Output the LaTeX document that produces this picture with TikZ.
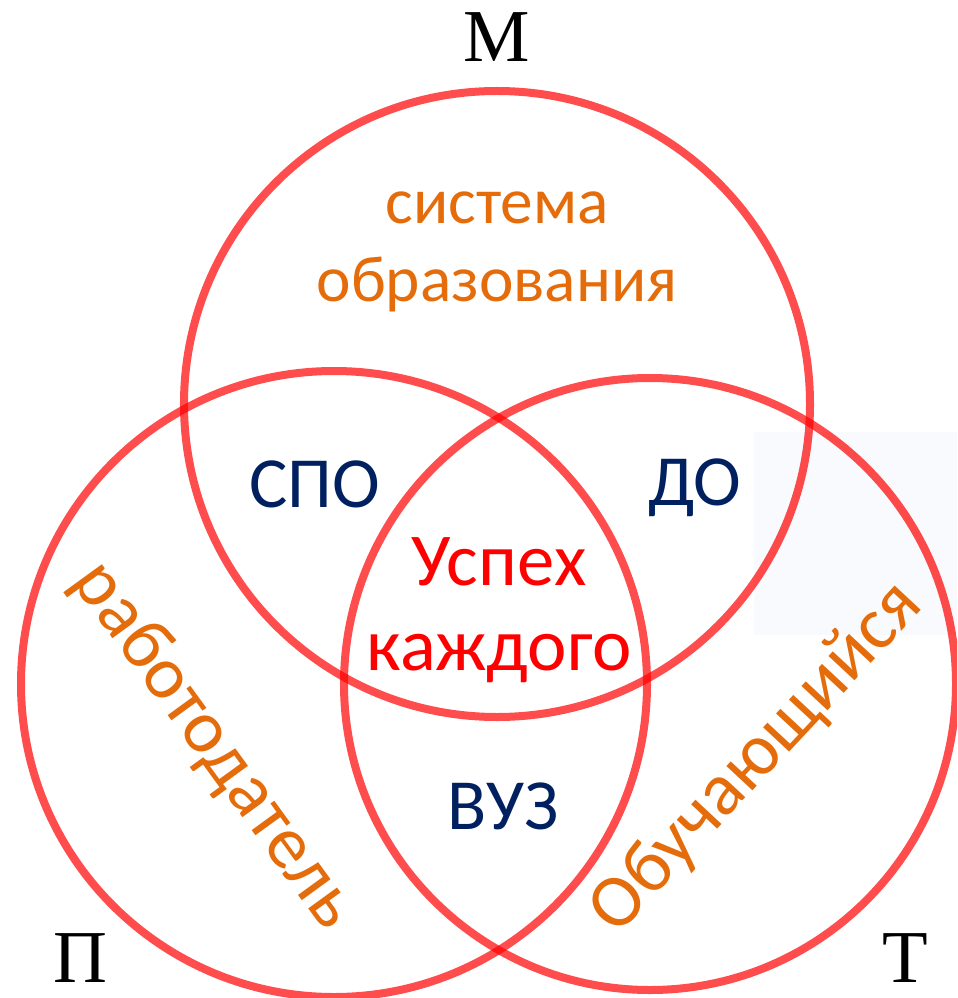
\documentclass[tikz,border=0pt]{standalone}
\usepackage{fontspec}
\setmainfont{Carlito}
\newfontfamily\serifcyr{Liberation Serif}
\usepackage{tikz}

\definecolor{ringred}{RGB}{255,0,0}
\definecolor{areaorange}{RGB}{228,108,10}
\definecolor{areanavy}{RGB}{0,32,96}
\definecolor{paleblue}{RGB}{248,250,253}

\begin{document}
\begin{tikzpicture}[x=0.75pt,y=0.75pt,yscale=-1,xscale=1,
  ring/.style={draw=ringred,draw opacity=0.7,line width=6pt},
  bigtext/.style={inner sep=0.75pt,align=center,font=\fontsize{49}{58}\selectfont},
  sidetext/.style={bigtext,text=areaorange},
  slanttext/.style={sidetext,font=\fontsize{56}{60}\selectfont},
  jointtext/.style={bigtext,text=areanavy,font=\fontsize{54}{60}\selectfont},
  cornertext/.style={inner sep=0.75pt,font=\serifcyr\fontsize{56}{60}\selectfont}]
\useasboundingbox (0,0) rectangle (957,998);
\clip (0,0) rectangle (957,998);

%Shape: Rectangle
\fill [paleblue] (754,432) rectangle (957,635);

%Shape: Circle (top)
\draw [ring] (497,404) circle [radius=313];
%Shape: Circle (left)
\draw [ring] (334,684) circle [radius=313];
%Shape: Circle (right)
\draw [ring] (650,684) circle [radius=306];

% Text Node
\node [sidetext] (sys) at (497,252) {система\\образования};
% Text Node
\node [slanttext,rotate=-54] (emp) at (214,746) {работодатель};
% Text Node
\node [slanttext,rotate=47] (stud) at (757,758) {Обучающийся};

% Text Node
\node [jointtext] (spo) at (315,484) {СПО};
% Text Node
\node [jointtext] (do) at (695,488) {ДО};
% Text Node
\node [jointtext] (vuz) at (503,806) {ВУЗ};
% Text Node
\node [bigtext,text=ringred,font=\fontsize{56}{64}\selectfont] (succ) at (499,610) {Успех\\каждого};

% Text Node
\node [cornertext] (m) at (497,37) {М};
% Text Node
\node [cornertext] (p) at (80,958) {П};
% Text Node
\node [cornertext] (t) at (905,958) {Т};

\end{tikzpicture}
\end{document}
